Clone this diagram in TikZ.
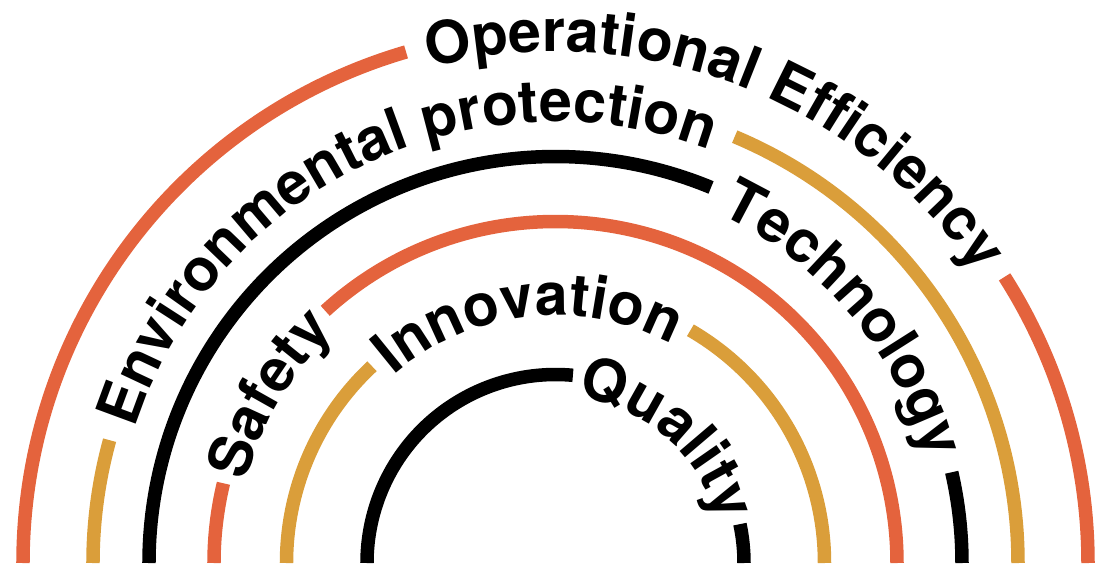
\documentclass[tikz,border=0pt]{standalone}
\usepackage{fontspec}
\setmainfont{TeX Gyre Heros}
\usetikzlibrary{decorations.text}
\definecolor{arcorange}{RGB}{228,99,61}
\definecolor{arcgold}{RGB}{218,158,58}
\newcommand\arclabel[4]{%
  \path[decorate, decoration={text along path, text align=center,
    text={|\bfseries\fontsize{59}{62}\selectfont|#4}}]
    (#2:#1) arc[start angle=#2, end angle=#3, radius=#1];}
\begin{document}
\begin{tikzpicture}[x=1pt, y=1pt, ring/.style={line width=13.5pt}]
\useasboundingbox (-555.5,0) rectangle (552.5,563);
% arc 1 (outer, orange)
\draw[ring, arcorange] (180:532.5) arc[start angle=180, end angle=106.3, radius=532.5];
\draw[ring, arcorange] (32.5:532.5) arc[start angle=32.5, end angle=0, radius=532.5];
\arclabel{511.3}{106.3}{32.5}{Operational Efficiency}
% arc 2 (gold)
\draw[ring, arcgold] (180:462.5) arc[start angle=180, end angle=164.6, radius=462.5];
\draw[ring, arcgold] (67.2:462.5) arc[start angle=67.2, end angle=0, radius=462.5];
\arclabel{441.3}{164.6}{67.2}{Environmental protection}
% arc 3 (black)
\draw[ring, black] (180:406.5) arc[start angle=180, end angle=67.5, radius=406.5];
\draw[ring, black] (12.9:406.5) arc[start angle=12.9, end angle=0, radius=406.5];
\arclabel{385.3}{67.5}{12.9}{Technology}
% arc 4 (orange)
\draw[ring, arcorange] (180:341.5) arc[start angle=180, end angle=166.5, radius=341.5];
\draw[ring, arcorange] (132.4:341.5) arc[start angle=132.4, end angle=0, radius=341.5];
\arclabel{320.3}{166.5}{132.4}{Safety}
% arc 5 (gold)
\draw[ring, arcgold] (180:269) arc[start angle=180, end angle=133, radius=269];
\draw[ring, arcgold] (59.9:269) arc[start angle=59.9, end angle=0, radius=269];
\arclabel{247.8}{133}{59.9}{Innovation}
% arc 6 (black)
\draw[ring, black] (180:188.5) arc[start angle=180, end angle=84.7, radius=188.5];
\draw[ring, black] (11.9:188.5) arc[start angle=11.9, end angle=0, radius=188.5];
\arclabel{167.3}{84.7}{11.9}{Quality}
\end{tikzpicture}
\end{document}
